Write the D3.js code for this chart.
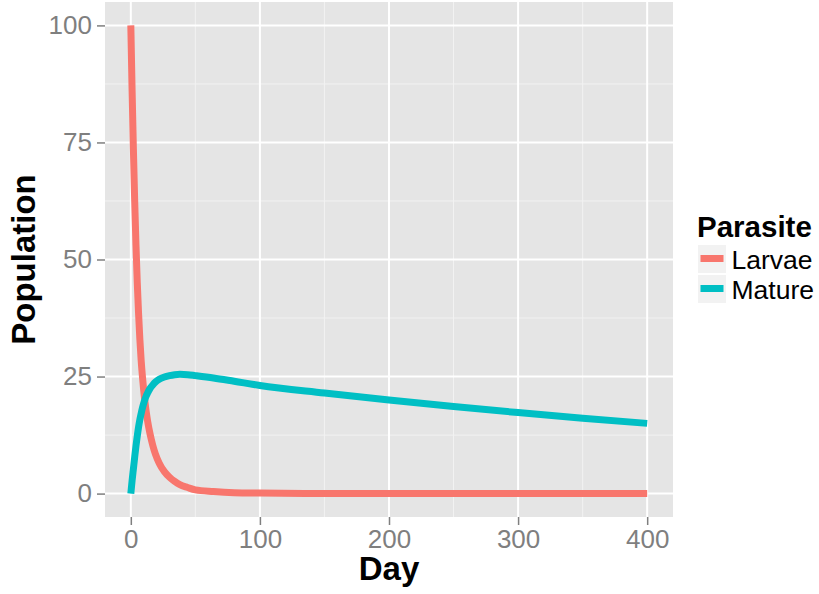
<!DOCTYPE html>
<html>
<head>
<meta charset="utf-8">
<script src="https://cdn.jsdelivr.net/npm/d3@7"></script>
<style>
  body { margin: 0; background: #fff; }
  svg { display: block; font-family: "Liberation Sans", Arial, sans-serif; }
</style>
</head>
<body>
<div id="chart"></div>
<script>
// values
var days   = [0, 1, 2, 3, 4, 5, 6, 7, 8, 9, 10, 11, 12, 13, 15, 17, 19, 22, 26, 30, 34, 38, 44, 50, 64, 80, 100, 150, 200, 250, 300, 350, 400];
var larvae = [100, 86, 73.5, 62.5, 53, 45, 38.5, 33, 28.5, 25, 22, 19.5, 17.3, 15.5, 12.6, 10.3, 8.5, 6.5, 4.7, 3.5, 2.6, 1.9, 1.3, 0.8, 0.45, 0.2, 0.1, 0, 0, 0, 0, 0, 0];
var mature = [0, 2.8, 5.3, 7.8, 10.2, 12.3, 14.2, 15.8, 17.1, 18.3, 19.3, 20.2, 20.9, 21.5, 22.5, 23.2, 23.8, 24.4, 24.9, 25.2, 25.4, 25.5, 25.4, 25.2, 24.7, 24.0, 23.1, 21.5, 20.0, 18.6, 17.3, 16.1, 15.0];

var seriesNames = ["Larvae", "Mature"];
var seriesColors = ["#F8766D", "#00BFC4"];

var xTicks = [0, 100, 200, 300, 400];
var xMinor = [50, 150, 250, 350];
var yTicks = [0, 25, 50, 75, 100];
var yMinor = [12.5, 37.5, 62.5, 87.5];

// dimensions
var width = 819,
    height = 594;
var panel = {left: 105, right: 673, top: 2, bottom: 517};

var svg = d3.select("#chart")
            .append("svg")
            .attr("width", width)
            .attr("height", height);

var xScale = d3.scaleLinear().domain([-20, 420]).range([panel.left, panel.right]);
var yScale = d3.scaleLinear().domain([-5, 105]).range([panel.bottom, panel.top]);

// panel background
svg.append("rect")
   .attr("x", panel.left)
   .attr("y", panel.top)
   .attr("width", panel.right - panel.left)
   .attr("height", panel.bottom - panel.top)
   .attr("fill", "#E5E5E5");

// grid lines
var grid = svg.append("g");
grid.selectAll(".xminor").data(xMinor).enter().append("line")
    .attr("x1", d => xScale(d)).attr("x2", d => xScale(d))
    .attr("y1", panel.top).attr("y2", panel.bottom)
    .attr("stroke", "#F2F2F2").attr("stroke-width", 1);
grid.selectAll(".yminor").data(yMinor).enter().append("line")
    .attr("y1", d => yScale(d)).attr("y2", d => yScale(d))
    .attr("x1", panel.left).attr("x2", panel.right)
    .attr("stroke", "#F2F2F2").attr("stroke-width", 1);
grid.selectAll(".xmajor").data(xTicks).enter().append("line")
    .attr("x1", d => xScale(d)).attr("x2", d => xScale(d))
    .attr("y1", panel.top).attr("y2", panel.bottom)
    .attr("stroke", "#FFFFFF").attr("stroke-width", 2);
grid.selectAll(".ymajor").data(yTicks).enter().append("line")
    .attr("y1", d => yScale(d)).attr("y2", d => yScale(d))
    .attr("x1", panel.left).attr("x2", panel.right)
    .attr("stroke", "#FFFFFF").attr("stroke-width", 2);

// lines
var line = d3.line()
             .curve(d3.curveMonotoneX)
             .x(function(d) { return xScale(d.x); })
             .y(function(d) { return yScale(d.y); });

[larvae, mature].forEach(function(vals, i) {
  var pts = days.map(function(d, j) { return {x: d, y: vals[j]}; });
  svg.append("path")
     .datum(pts)
     .attr("fill", "none")
     .attr("stroke", seriesColors[i])
     .attr("stroke-width", 7)
     .attr("stroke-linejoin", "round")
     .attr("d", line);
});

// axes
var xAxis = svg.append("g")
   .attr("transform", "translate(0," + panel.bottom + ")")
   .call(d3.axisBottom(xScale).tickValues(xTicks).tickSize(8).tickPadding(5));
var yAxis = svg.append("g")
   .attr("transform", "translate(" + panel.left + ",0)")
   .call(d3.axisLeft(yScale).tickValues(yTicks).tickSize(8).tickPadding(5));
[xAxis, yAxis].forEach(function(a) {
  a.select(".domain").remove();
  a.selectAll(".tick line").attr("stroke", "#7F7F7F").attr("stroke-width", 1.5);
  a.selectAll(".tick text")
   .attr("fill", "#7F7F7F")
   .style("font-size", "26px")
   .style("font-family", "'Liberation Sans', Arial, sans-serif");
});

// axis titles
svg.append("text")
   .attr("x", (panel.left + panel.right) / 2)
   .attr("y", 580)
   .attr("text-anchor", "middle")
   .style("font-size", "33px")
   .style("font-weight", "bold")
   .text("Day");
svg.append("text")
   .attr("transform", "translate(35," + (panel.top + panel.bottom) / 2 + ") rotate(-90)")
   .attr("text-anchor", "middle")
   .style("font-size", "33px")
   .style("font-weight", "bold")
   .text("Population");

// legend
var legend = svg.append("g");
legend.append("text")
      .attr("x", 697)
      .attr("y", 236.5)
      .style("font-size", "29.5px")
      .style("font-weight", "bold")
      .text("Parasite");
var keys = legend.selectAll(".key").data(seriesNames).enter().append("g")
      .attr("transform", function(d, i) { return "translate(697.5," + (244.5 + i * 30) + ")"; });
keys.append("rect")
    .attr("width", 29).attr("height", 29)
    .attr("fill", "#F2F2F2").attr("stroke", "#FFFFFF").attr("stroke-width", 1);
keys.append("line")
    .attr("x1", 3).attr("x2", 26)
    .attr("y1", 14).attr("y2", 14)
    .attr("stroke", function(d, i) { return seriesColors[i]; })
    .attr("stroke-width", 7);
keys.append("text")
    .attr("x", 34)
    .attr("y", 24.5)
    .style("font-size", "26.5px")
    .text(function(d) { return d; });
</script>
</body>
</html>
